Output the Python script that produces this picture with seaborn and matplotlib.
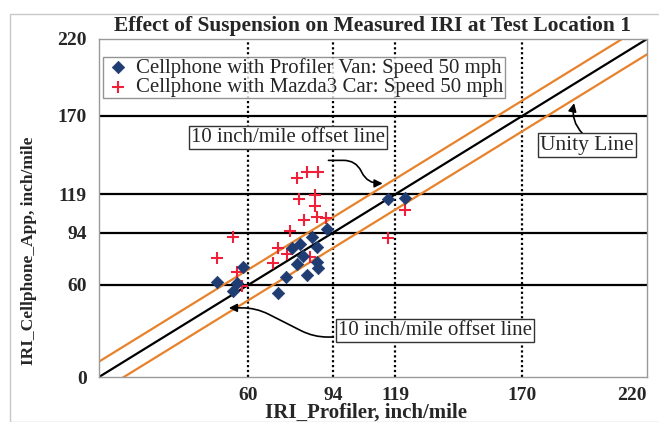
import numpy as np
import pandas as pd
import matplotlib
matplotlib.use("Agg")
import matplotlib.pyplot as plt
import seaborn as sns
from matplotlib.patches import Rectangle

# IRI values (inch/mile)
van_profiler = [47.5, 55.3, 53.9, 57.7, 72.0, 75.1, 77.4, 80.7, 82.0, 79.4,
                85.4, 87.4, 87.4, 83.4, 88.1, 91.4, 116.2, 122.9]
van_phone = [62.0, 61.0, 56.0, 71.8, 54.9, 65.3, 83.8, 86.6, 78.8, 73.6,
             91.3, 84.4, 75.1, 66.4, 70.8, 96.1, 115.7, 116.3]

car_profiler = [79.4, 83.7, 88.1, 80.4, 86.7, 86.7, 82.3, 87.4, 91.0, 76.7,
                53.9, 47.5, 72.0, 75.4, 70.0, 84.7, 55.3, 57.3, 116.2, 122.9]
car_phone = [129.3, 133.2, 133.2, 115.7, 118.5, 111.3, 102.2, 104.0, 103.3, 95.3,
             90.9, 77.3, 83.8, 80.1, 74.4, 77.9, 68.6, 59.4, 90.2, 108.7]

threshold_ticks = [60, 94, 119, 170]
axis_ticks = [0, 60, 94, 119, 170, 220]
line_x = [0, 220]
offset = 10

sns.set_style("white")
plt.rcParams['font.family'] = ['Liberation Serif', 'DejaVu Serif']

fig = plt.figure(figsize=(6.59, 4.22), dpi=100)
fig.patches.append(Rectangle((10 / 659, 0), 1, 1 - 14 / 422, transform=fig.transFigure,
                             fill=False, edgecolor='#c8c8c8', lw=1))
ax = fig.add_axes([99 / 659, 1 - 377 / 422, 548 / 659, 338 / 422])

# threshold lines
for t in threshold_ticks:
    ax.axhline(t, color='black', lw=1.6, zorder=1)
    ax.axvline(t, color='black', lw=1.6, ls=(0, (1, 1.2)), zorder=1)

# unity line and +/- 10 offset lines
sns.lineplot(x=line_x, y=[v + offset for v in line_x], color='#E8822A', lw=1.6, ax=ax, zorder=2)
sns.lineplot(x=line_x, y=[v - offset for v in line_x], color='#E8822A', lw=1.6, ax=ax, zorder=2)
sns.lineplot(x=line_x, y=line_x, color='black', lw=1.6, ax=ax, zorder=2)

sns.scatterplot(x=van_profiler, y=van_phone, marker='D', s=40, color='#1F3C73',
                edgecolor='#1F3C73', linewidth=0.5, ax=ax, zorder=4,
                label='Cellphone with Profiler Van: Speed 50 mph')
sns.scatterplot(x=car_profiler, y=car_phone, marker='+', s=85, color='#F0203A',
                linewidth=1.5, ax=ax, zorder=3,
                label='Cellphone with Mazda3 Car: Speed 50 mph')

ax.set_xlim(0, 220)
ax.set_ylim(0, 220)
ax.set_xticks(axis_ticks[1:])
ax.set_yticks(axis_ticks)
ax.tick_params(length=0, labelsize=14, pad=7)
ax.tick_params(axis='y', pad=9)
for lab in ax.get_xticklabels() + ax.get_yticklabels():
    lab.set_fontweight('bold')
# keep the last x label inside the picture
ax.get_xticklabels()[-1].set_horizontalalignment('right')
for s in ax.spines.values():
    s.set_color('#9a9a9a')
    s.set_linewidth(1)

ax.set_title('Effect of Suspension on Measured IRI at Test Location 1',
             fontsize=15.5, fontweight='bold', pad=6)
ax.set_xlabel('IRI_Profiler, inch/mile', fontsize=15, fontweight='bold')
ax.set_ylabel('IRI_Cellphone_App, inch/mile', fontsize=12.5, fontweight='bold')
ax.xaxis.set_label_coords(0.487, -0.104)
ax.yaxis.set_label_coords(-0.128, 0.373)
ax.xaxis.label.set_va('center')
ax.yaxis.label.set_va('center')

leg = ax.legend(loc='upper left', bbox_to_anchor=(0.007, 0.948), fontsize=15,
                frameon=True, fancybox=False, borderpad=0.05, labelspacing=0.0,
                handletextpad=0.15, handlelength=1.4, borderaxespad=0)
leg.get_frame().set_edgecolor('#7a7a7a')
leg.get_frame().set_linewidth(1)

box = dict(boxstyle='square,pad=0.1', fc='white', ec='#333333', lw=1)
arrow = dict(arrowstyle='-|>', color='black', lw=1.2, mutation_scale=12)
ax.annotate('10 inch/mile offset line', xy=(76, 156), fontsize=15,
            ha='center', va='center', bbox=box, zorder=6)
ax.annotate('', xy=(115, 126), xytext=(91, 141),
            arrowprops=dict(arrow, connectionstyle='arc,angleA=0,angleB=180,armA=30,armB=18,rad=12'))
ax.annotate('Unity Line', xy=(196, 151), fontsize=15.5,
            ha='center', va='center', bbox=box, zorder=6)
ax.annotate('', xy=(191, 180), xytext=(195, 157),
            arrowprops=dict(arrow, connectionstyle='arc3,rad=-0.3'))
ax.annotate('10 inch/mile offset line', xy=(135, 30), fontsize=15,
            ha='center', va='center', bbox=box, zorder=6)
ax.annotate('', xy=(51, 45), xytext=(95, 26),
            arrowprops=dict(arrow, connectionstyle='arc,angleA=180,angleB=0,armA=22,armB=30,rad=14'))

fig.savefig('out.png', dpi=100)
